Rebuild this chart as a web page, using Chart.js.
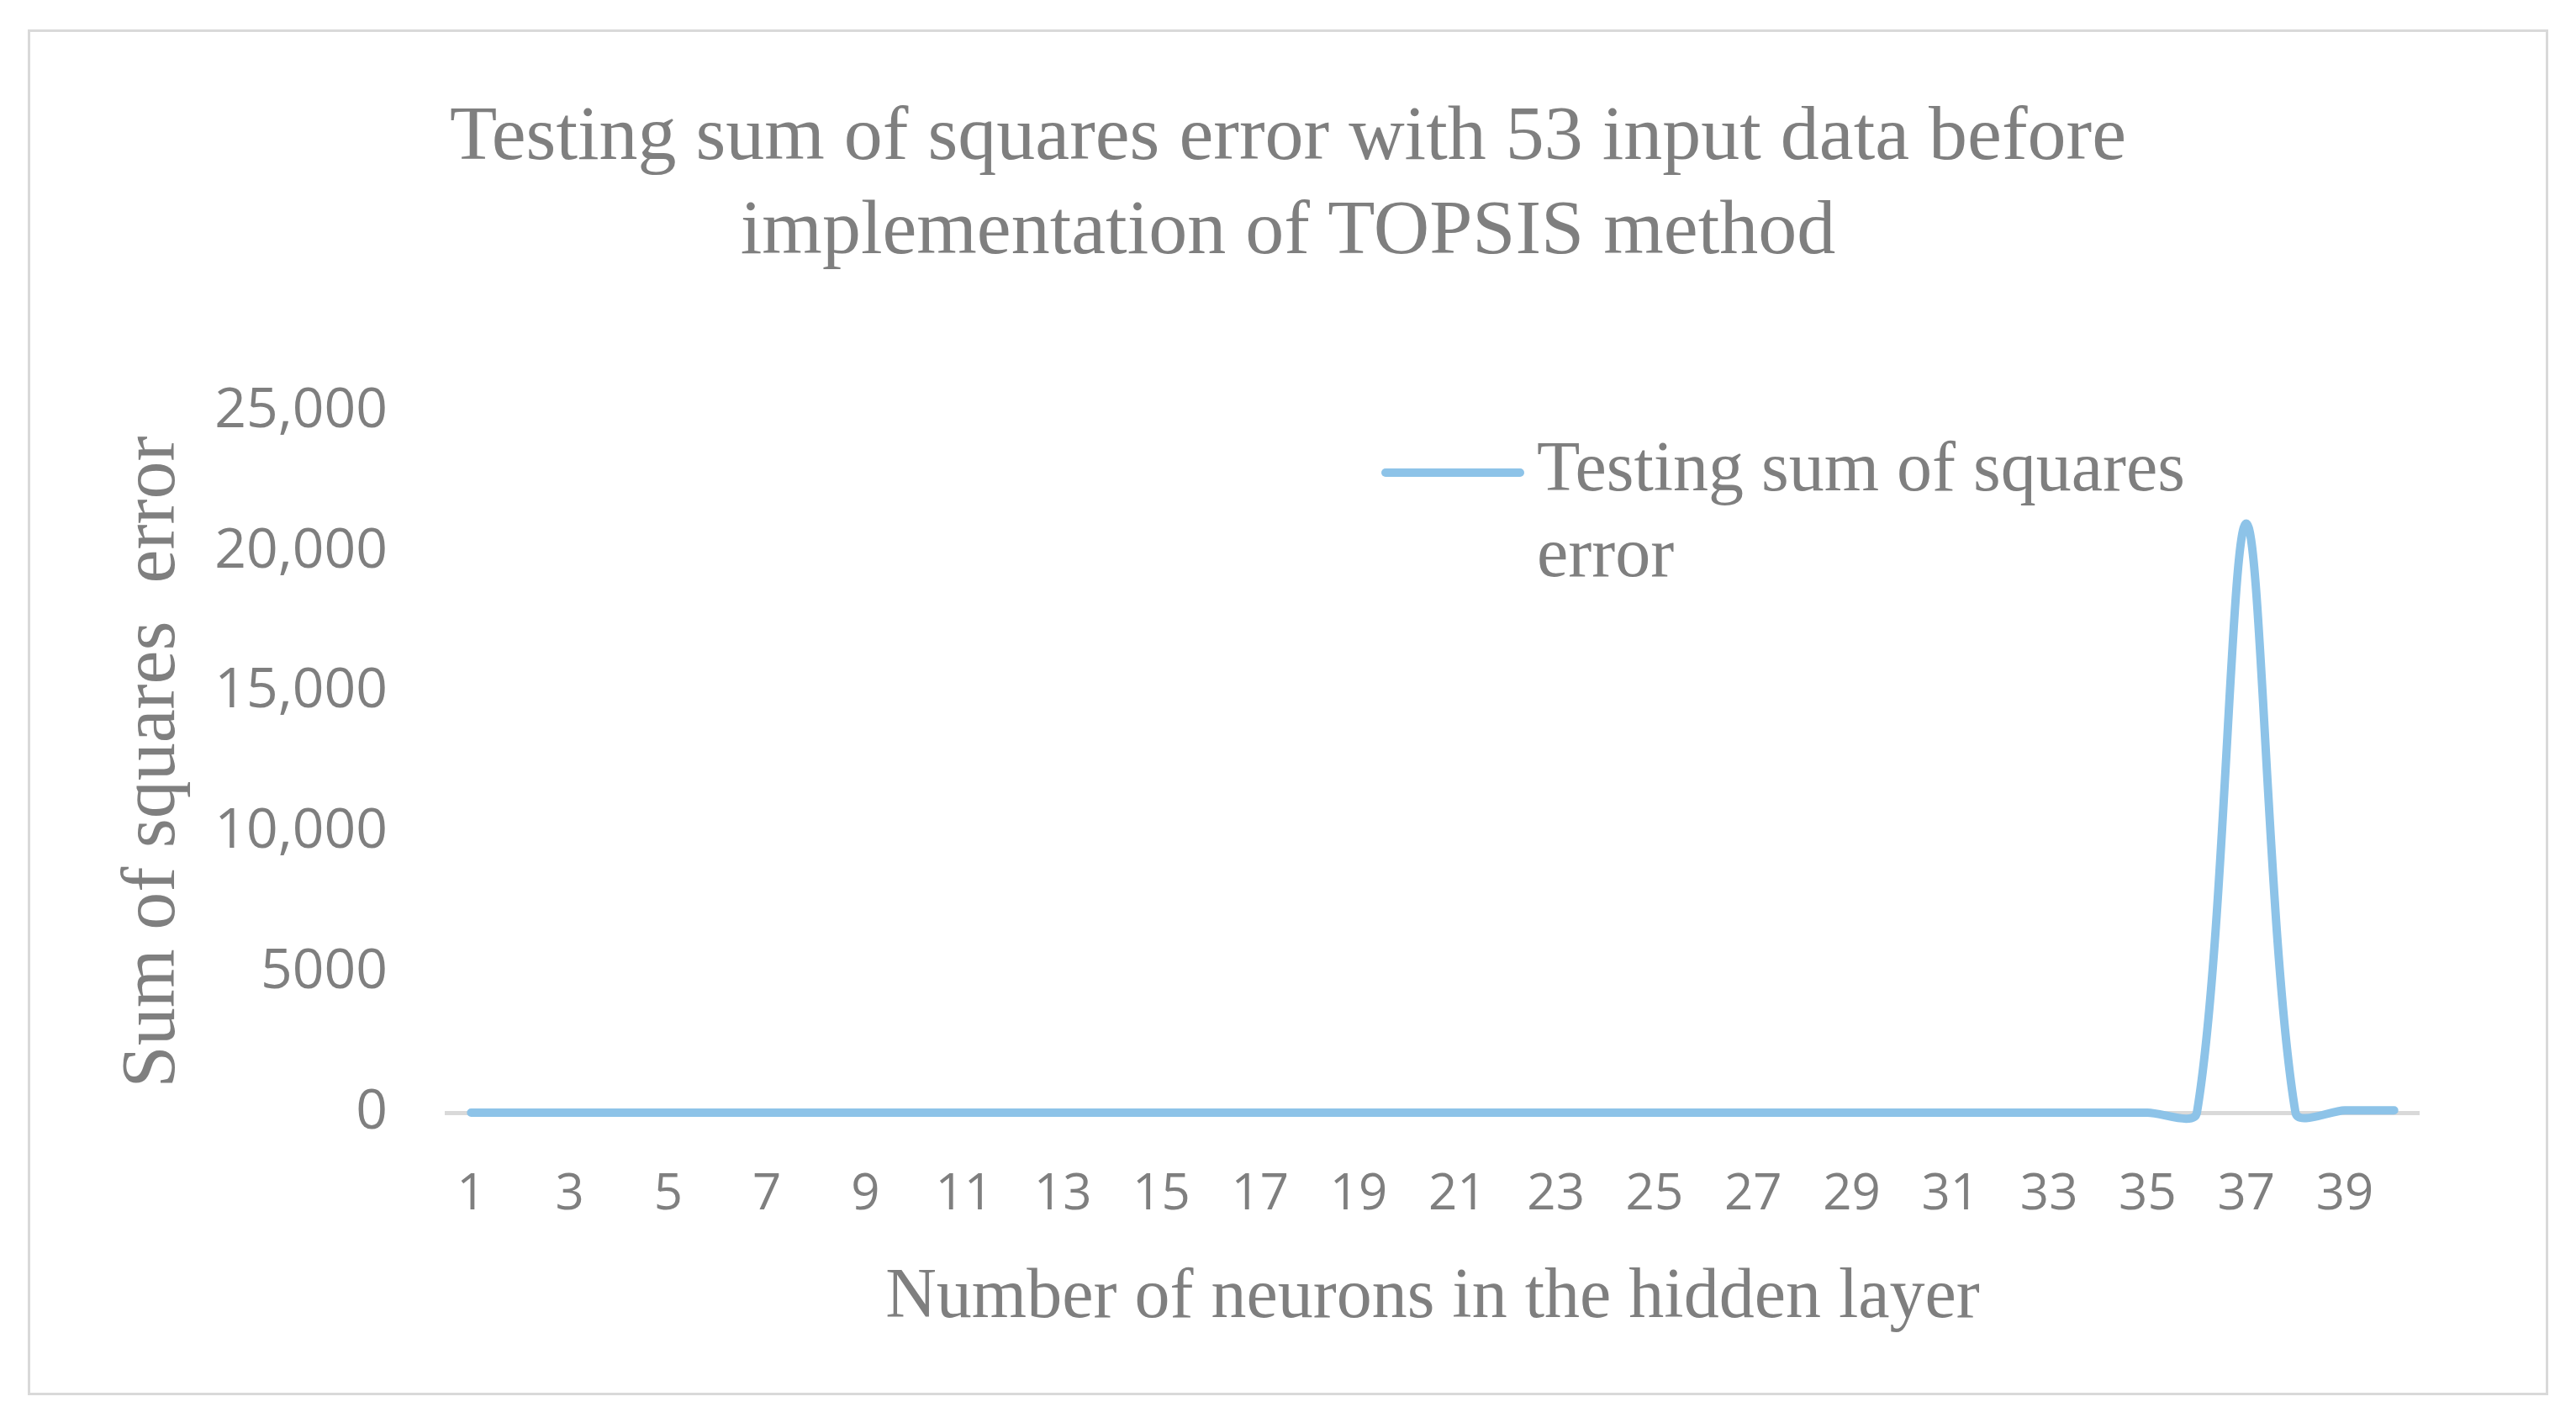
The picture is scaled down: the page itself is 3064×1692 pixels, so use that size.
<!DOCTYPE html>
<html lang="en">
<head>
    <meta charset="UTF-8">
    <title>Testing sum of squares error</title>
    <script src="https://cdn.jsdelivr.net/npm/chart.js@4.4.0/dist/chart.umd.min.js"></script>
    <style>
        html, body { margin: 0; padding: 0; background: #fff; }
        body { width: 3064px; height: 1692px; position: relative; overflow: hidden; }
        #marco { position: absolute; left: 33px; top: 35px; width: 2992px; height: 1618px; border: 3px solid #d9d9d9; }
        #titulo { position: absolute; left: 0; top: 102px; width: 3064px; text-align: center;
                  font-family: 'Liberation Serif', serif; font-size: 92px; line-height: 112px; color: #7f7f7f; }
        #grafico { position: absolute; left: 0; top: 0; }
    </style>
</head>
<body>
    <div id="marco"></div>
    <div id="titulo">Testing sum of squares error with 53 input data before<br>implementation of TOPSIS method</div>
    <canvas id="grafico" width="3064" height="1692"></canvas>
    <script>
        // datos
        const neuronas = ['1','2','3','4','5','6','7','8','9','10','11','12','13','14','15','16','17','18','19','20',
                          '21','22','23','24','25','26','27','28','29','30','31','32','33','34','35','36','37','38','39','40'];
        const errorPrueba = [0,0,0,0,0,0,0,0,0,0,0,0,0,0,0,0,0,0,0,0,
                             0,0,0,0,0,0,0,0,0,0,0,0,0,0,0,0,21000,0,80,80];
        const etiquetasY = ['0','5000','10,000','15,000','20,000','25,000'];
        const nombreSerie = 'Testing sum of squares error';

        const gris = '#7f7f7f';
        const azul = '#8dc3e8';

        // leyenda dentro del area, en dos lineas como en el original
        const leyenda = {
            id: 'leyenda',
            afterDatasetsDraw(chart) {
                const ctx = chart.ctx;
                const ds = chart.data.datasets[0];
                ctx.save();
                ctx.strokeStyle = ds.borderColor;
                ctx.lineWidth = ds.borderWidth;
                ctx.lineCap = 'round';
                ctx.beginPath();
                ctx.moveTo(1648, 562);
                ctx.lineTo(1808, 562);
                ctx.stroke();
                ctx.fillStyle = gris;
                ctx.font = '84px "Liberation Serif"';
                ctx.textBaseline = 'alphabetic';
                const palabras = ds.label.split(' ');
                const lineas = [];
                let actual = '';
                palabras.forEach(p => {
                    const prueba = actual ? actual + ' ' + p : p;
                    if (ctx.measureText(prueba).width > 900 && actual) {
                        lineas.push(actual);
                        actual = p;
                    } else {
                        actual = prueba;
                    }
                });
                lineas.push(actual);
                lineas.forEach((l, i) => ctx.fillText(l, 1828, 583 + i * 102));
                ctx.restore();
            }
        };

        var ctx = document.getElementById('grafico').getContext('2d');
        var grafico = new Chart(ctx, {
            type: 'line',
            data: {
                labels: neuronas,
                datasets: [{
                    label: nombreSerie,
                    data: errorPrueba,
                    borderColor: azul,
                    backgroundColor: azul,
                    borderWidth: 10,
                    borderCapStyle: 'round',
                    borderJoinStyle: 'round',
                    tension: 0.3,
                    capBezierPoints: false,
                    pointRadius: 0,
                    fill: false,
                    clip: false
                }]
            },
            options: {
                responsive: false,
                animation: false,
                layout: { padding: { left: 0, right: 187, top: 489, bottom: 98 } },
                plugins: {
                    legend: { display: false },
                    title: { display: false },
                    tooltip: { enabled: false }
                },
                scales: {
                    x: {
                        type: 'category',
                        offset: true,
                        grid: { display: false, drawTicks: false },
                        border: { display: true, color: '#d9d9d9', width: 5 },
                        ticks: {
                            autoSkip: false,
                            maxRotation: 0,
                            padding: 62,
                            color: gris,
                            font: { family: 'Open Sans', size: 60 },
                            callback: (v, i) => i % 2 === 0 ? neuronas[i] : ''
                        },
                        title: {
                            display: true,
                            text: 'Number of neurons in the hidden layer',
                            color: gris,
                            font: { family: 'Liberation Serif', size: 84 },
                            padding: { top: 0, bottom: 0 }
                        },
                        afterFit(scale) { scale.height = 271; }
                    },
                    y: {
                        min: 0,
                        max: 25000,
                        grid: { display: false, drawTicks: false },
                        border: { display: false },
                        ticks: {
                            stepSize: 5000,
                            padding: 70,
                            color: gris,
                            font: { family: 'Open Sans', size: 66 },
                            callback: (v, i) => etiquetasY[i]
                        },
                        title: {
                            display: true,
                            text: 'Sum of squares  error',
                            color: gris,
                            font: { family: 'Liberation Serif', size: 90 },
                            padding: { top: 129, bottom: 0 }
                        },
                        afterFit(scale) { scale.width = 531; }
                    }
                }
            },
            plugins: [leyenda]
        });
    </script>
</body>
</html>
